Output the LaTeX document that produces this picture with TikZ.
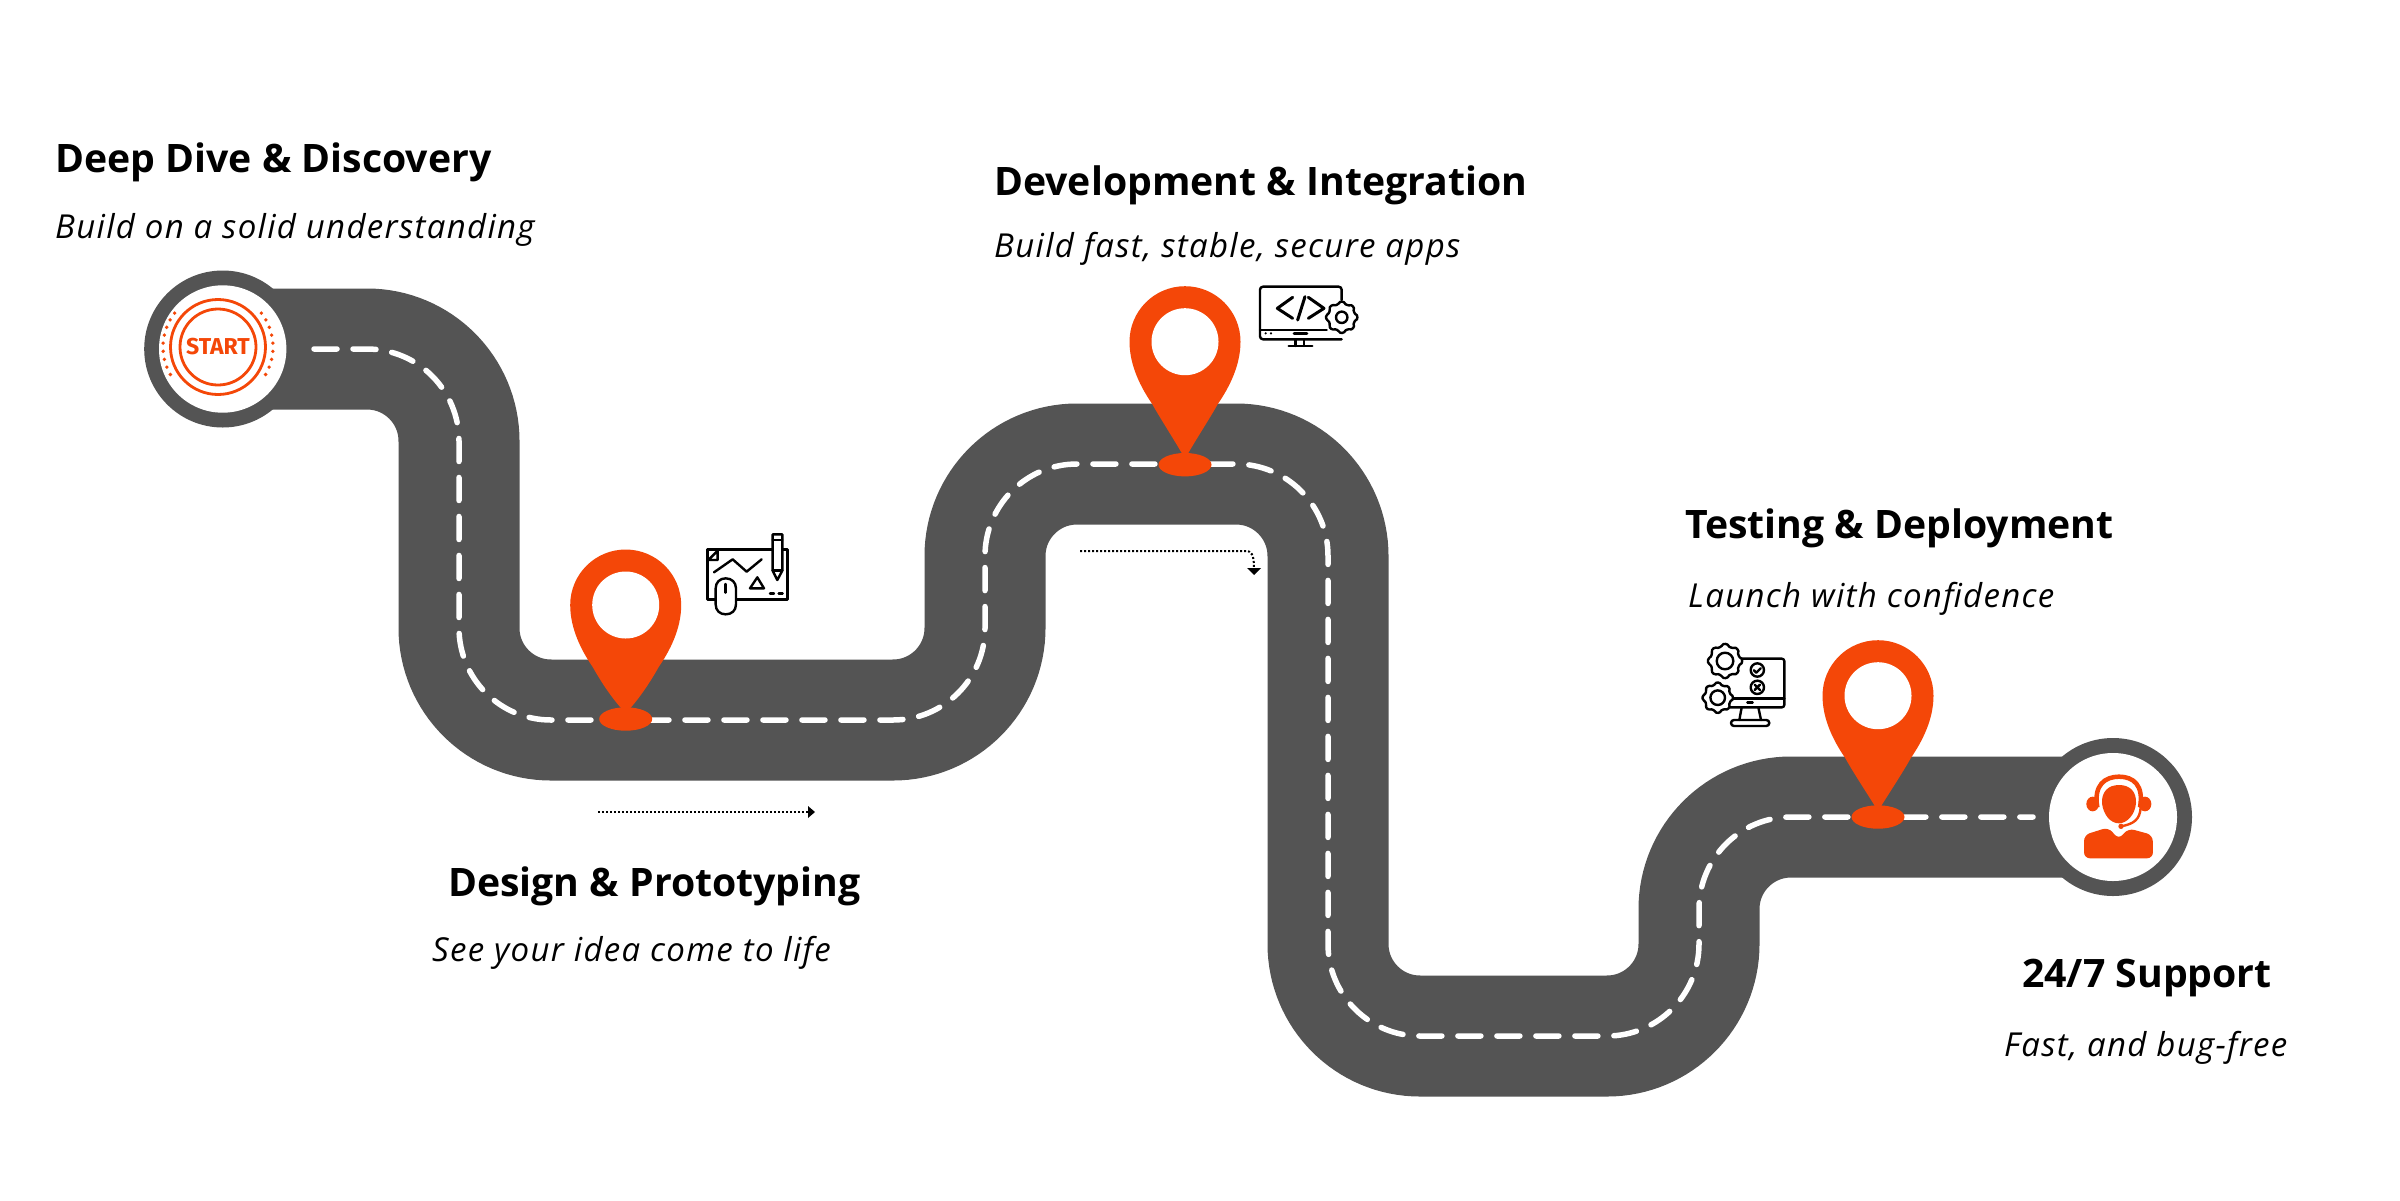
\documentclass[tikz,border=0pt]{standalone}
\usepackage{fontspec}
\setmainfont{Open Sans}
\newfontfamily\startfont{Fira Sans}[BoldFont=* Bold]
\definecolor{roadgray}{HTML}{545454}
\definecolor{pinorange}{HTML}{F44708}
\tikzset{
  x=1pt,y=-1pt,
  roadline/.style={line width=121pt,draw=roadgray,rounded corners=92pt},
  laneline/.style={line width=5.5pt,draw=white,line cap=round,rounded corners=92pt,dash pattern=on 23pt off 16pt},
  headline/.style={anchor=base west,inner sep=0pt,font=\fontsize{39.2}{39.2}\selectfont\bfseries},
  subline/.style={anchor=base west,inner sep=0pt,font=\fontsize{33}{33}\selectfont\itshape\addfontfeature{LetterSpace=4}},
  flowline/.style={line width=2pt,draw=black,dash pattern=on 2pt off 2pt},
  iconline/.style={line width=2.4pt,draw=black,line cap=round,line join=round},
  iconfill/.style={iconline,fill=white},
}
% pin: ellipse centre, head-centre y
\newcommand{\mappin}[3]{%
  \begin{scope}[shift={(#1,#3)}]
    \fill[pinorange] (-55.5,0) arc[start angle=180,end angle=360,radius=55.5]
      .. controls (55.5,24) and (44,46) .. (33,62)
      .. controls (24,78) and (12,96) .. (0,#2-#3-6)
      .. controls (-12,96) and (-24,78) .. (-33,62)
      .. controls (-44,46) and (-55.5,24) .. cycle;
    \fill[white] (0,0) circle[radius=33.5];
  \end{scope}
  \fill[pinorange] (#1,#2) ellipse[x radius=26.5,y radius=11.7];
}
\newcommand{\gearicon}[5]{% cx cy R hole teeth
  \draw[iconfill] plot[smooth cycle,samples=#5*6+1,domain=0:360-360/(#5*6)]
     ({#1+(#3-#3*0.09+#3*0.09*(2/3.1416)*rad(atan(2.5*cos(#5*\x))))*cos(\x)},
      {#2+(#3-#3*0.09+#3*0.09*(2/3.1416)*rad(atan(2.5*cos(#5*\x))))*sin(\x)});
  \draw[iconline] (#1,#2) circle[radius=#4];
}
\begin{document}
\begin{tikzpicture}
\useasboundingbox (0,0) rectangle (2400,1200);
\fill[white] (0,0) rectangle (2400,1200);

% road
\draw[roadline] (222,349) -- (459,349) -- (459,720) -- (985,720) -- (985,464)
   -- (1328,464) -- (1328,1036) -- (1699,1036) -- (1699,817) -- (2113,817);
\fill[roadgray] (222.7,349) circle[radius=78.5];
\fill[roadgray] (2113,817) circle[radius=79];
\fill[white] (222.7,349) circle[radius=63.7];
\fill[white] (2113,817) circle[radius=64];
% lane
\draw[laneline] (314,349) -- (459,349) -- (459,720) -- (985,720) -- (985,464)
   -- (1328,464) -- (1328,1036) -- (1699,1036) -- (1699,817) -- (2033,817);

% pins
\mappin{625.7}{719}{605}
\mappin{1185}{464.7}{341.7}
\mappin{1878}{817}{695.7}

% start badge
\draw[pinorange,line width=2.8pt] (218,347) circle[radius=47.5];
\draw[pinorange,line width=2.8pt] (218,347) circle[radius=38];
\foreach \a in {-38,-29.5,...,38}{
  \fill[pinorange] ({218+55*cos(\a)},{347+55*sin(\a)}) circle[radius=1.9];
  \fill[pinorange] ({218-55*cos(\a)},{347+55*sin(\a)}) circle[radius=1.9];
}
\node[inner sep=0pt,text=pinorange,font=\startfont\fontsize{23}{23}\selectfont\bfseries] (starttext) at (218,347) {START};

% support agent
\begin{scope}[shift={(2020,720)},x=0.3333pt,y=-0.3333pt]
  \fill[pinorange] (218,252) ellipse[x radius=19,y radius=22];
  \fill[pinorange] (375,252) ellipse[x radius=19,y radius=22];
  \draw[pinorange,line width=4.5pt] (232,262) .. controls (220,195) and (255,170) .. (297,170)
     .. controls (340,170) and (372,195) .. (360,262);
  \draw[pinorange,line width=2.4pt] (362,262) .. controls (360,300) and (340,312) .. (303,319);
  \fill[pinorange] (303,319) circle[radius=8];
  \fill[pinorange] (297,195) .. controls (330,195) and (350,215) .. (348,250)
     .. controls (345,285) and (320,310) .. (297,310)
     .. controls (272,310) and (250,285) .. (246,250)
     .. controls (244,215) and (265,195) .. (297,195) -- cycle;
  \fill[pinorange,rounded corners=6pt] (192,345) -- (265,322) -- (296,358) -- (325,325) -- (398,345)
     -- (399,415) -- (192,415) -- cycle;
\end{scope}

% design icon
\begin{scope}[shift={(540,500)},x=0.3333pt,y=-0.3333pt]
  \draw[iconline,line cap=butt] (502,148) rectangle (742,298);
  \draw[iconline] (505,180) -- (533,180) -- (533,152) -- cycle;
  \draw[iconline] (522,217) -- (578,178) -- (620,215) -- (665,178);
  \draw[iconline] (630,265) -- (652,232) -- (672,265) -- cycle;
  \draw[iconline] (690,281) -- (702,281) (716,281) -- (728,281);
  \draw[iconfill] (557,235) .. controls (540,235) and (527,247) .. (527,265) -- (527,313)
     .. controls (527,332) and (540,343) .. (557,343)
     .. controls (575,343) and (588,332) .. (588,313) -- (588,265)
     .. controls (588,247) and (575,235) .. (557,235) -- cycle;
  \draw[iconline] (556,252) -- (556,278);
  \draw[iconfill] (698,103) -- (727,103) -- (727,212) -- (712,240) -- (698,212) -- cycle;
  \draw[iconline] (698,120) -- (727,120);
  \draw[iconline] (698,212) -- (727,212);
\end{scope}

% development icon
\begin{scope}[shift={(1100,260)},x=0.3333pt,y=-0.3333pt]
  \draw[iconline,rounded corners=3pt] (725,238) -- (480,238) -- (480,80) -- (725,80) -- (725,120);
  \draw[iconline] (480,210) -- (680,210);
  \fill (497,220) circle[radius=1.2pt];
  \fill (513,220) circle[radius=1.2pt];
  \draw[iconline,line width=3pt] (578,112) -- (532,145) -- (578,175);
  \draw[iconline,line width=3pt] (625,112) -- (672,145) -- (625,175);
  \draw[iconline,line width=3pt] (615,110) -- (593,180);
  \draw[iconline,line width=2.8pt] (582,221) -- (621,221);
  \draw[iconline] (587,238) -- (587,258) (612,238) -- (612,258);
  \draw[iconline] (566,258) -- (637,258);
\end{scope}
\gearicon{1341.7}{317.3}{16}{5.7}{8}

% testing icon
\begin{scope}[shift={(1680,620)},x=0.3333pt,y=-0.3333pt]
  \draw[iconline,rounded corners=2.5pt] (170,116) -- (313,116) -- (313,262) -- (150,262);
  \draw[iconline] (150,235) -- (313,235);
  \draw[iconline] (202,248) -- (218,248);
  \draw[iconline] (232,150) circle[radius=20];
  \draw[iconline] (232,202) circle[radius=20];
  \draw[iconline] (222,151) -- (229,158) -- (242,145);
  \draw[iconline] (224,194) -- (240,210) (240,194) -- (224,210);
  \draw[iconline] (185,262) -- (178,300) (235,262) -- (243,300);
  \draw[iconline,rounded corners=3pt] (153,300) rectangle (268,318);
\end{scope}
\gearicon{1725}{661}{17.5}{8.3}{8}
\gearicon{1717.7}{697.7}{15.5}{7.3}{8}

% small flow arrows
\coordinate (flowa) at (598,812);
\coordinate (flowb) at (808,812);
\coordinate (flowc) at (1080,551);
\coordinate (flowd) at (1254,568);
\draw[flowline] (flowa) -- (flowb);
\fill (flowb) ++(0,-6) -- ++(7,6) -- ++(-7,6) -- cycle;
\draw[flowline] (flowc) -- (1246,551) .. controls (1251,551) and (1254,554) .. (flowd);
\fill (flowd) ++(-7,0) -- ++(14,0) -- ++(-7,7) -- cycle;

% labels
\node[headline] (h1) at (55,172) {Deep Dive \& Discovery};
\node[subline]  (s1) at (55,238) {Build on a solid understanding};
\node[headline] (h2) at (994,195) {Development \& Integration};
\node[subline]  (s2) at (994,257) {Build fast, stable, secure apps};
\node[headline] (h3) at (1685,538) {Testing \& Deployment};
\node[subline]  (s3) at (1688,607) {Launch with confidence};
\node[headline] (h4) at (448,896) {Design \& Prototyping};
\node[subline]  (s4) at (432,961) {See your idea come to life};
\node[headline] (h5) at (2022,987) {24/7 Support};
\node[subline]  (s5) at (2004,1056) {Fast, and bug-free};
\end{tikzpicture}
\end{document}
